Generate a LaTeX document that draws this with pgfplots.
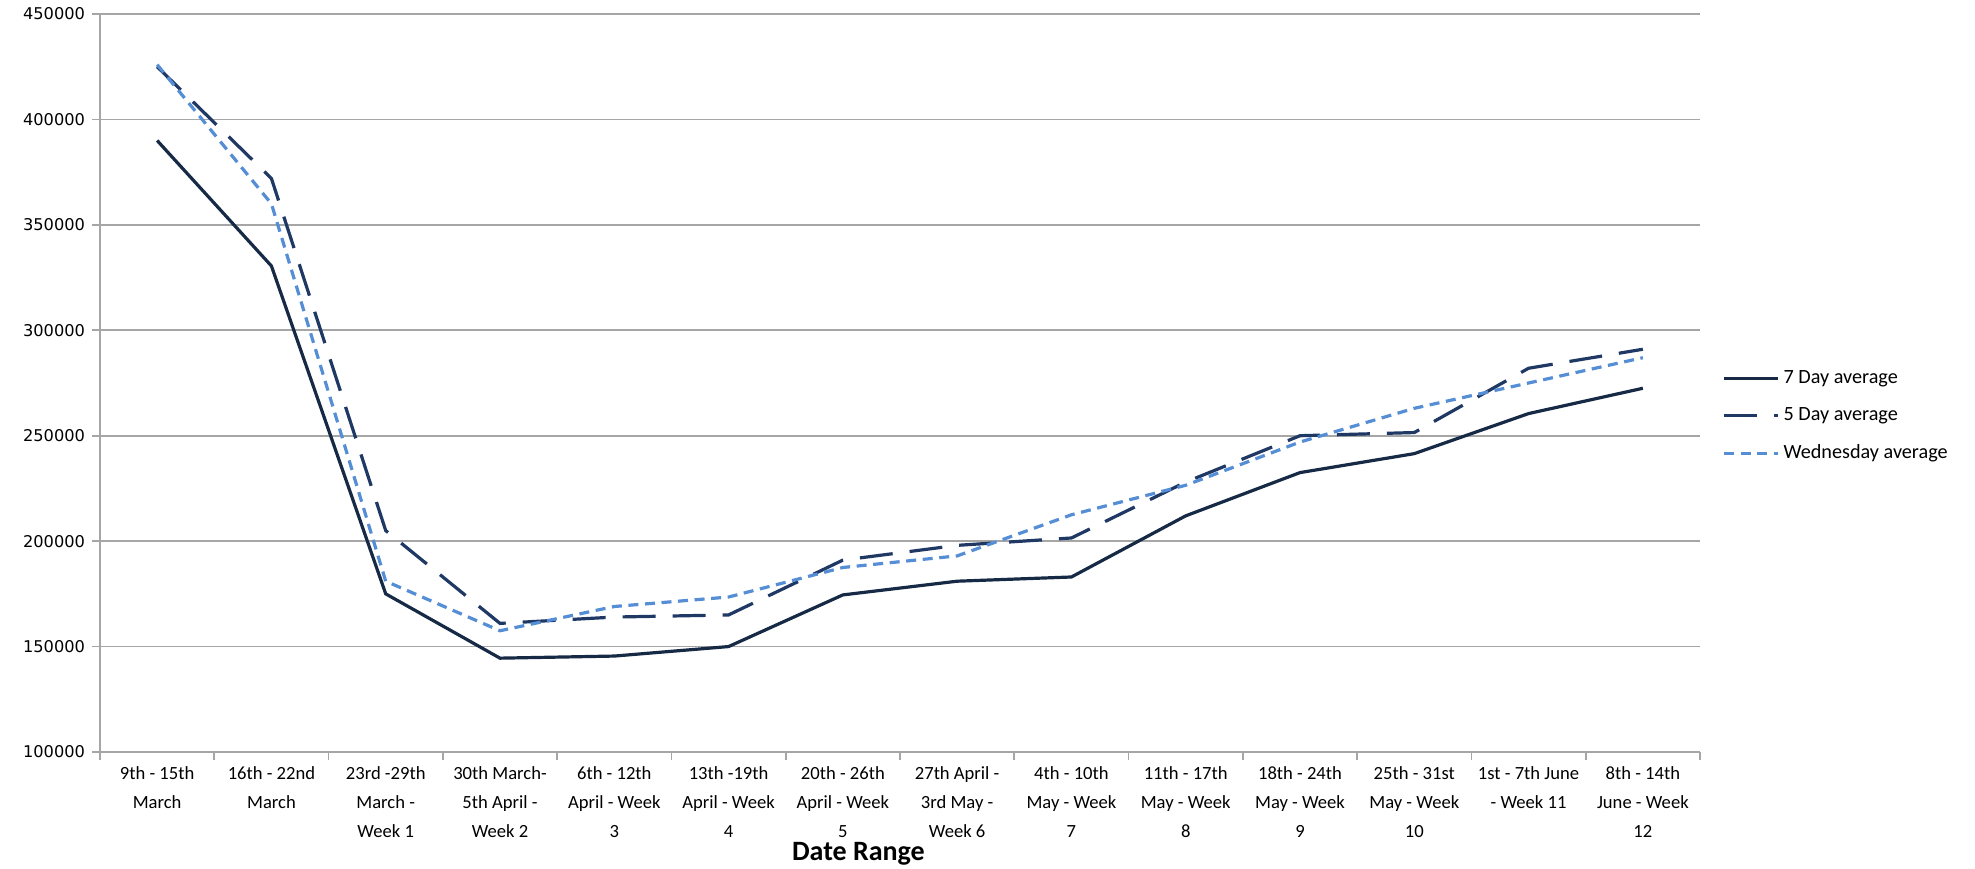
\documentclass[border=0pt]{standalone}
\usepackage{fontspec}
\setmainfont{Carlito}
\newfontfamily\dejavu{DejaVu Sans}
\usepackage{pgfplots}
\pgfplotsset{compat=1.18}
\definecolor{sevenc}{HTML}{172A45}
\definecolor{fivec}{HTML}{1F3864}
\definecolor{wedc}{HTML}{558ED5}
\definecolor{gridc}{HTML}{A6A6A6}
\begin{document}
\begin{tikzpicture}
\path[use as bounding box] (-50bp,-58.5bp) rectangle (937.5bp,376bp);
\begin{axis}[
  scale only axis,
  width=800bp, height=369bp,
  xmin=-0.5, xmax=13.5,
  ymin=100000, ymax=450000,
  ytick={100000,150000,200000,250000,300000,350000,400000,450000},
  scaled y ticks=false,
  yticklabel style={font=\dejavu\fontsize{8.1bp}{9bp}\selectfont, /pgf/number format/assume math mode=true, /pgf/number format/fixed, /pgf/number format/1000 sep={}},
  xtick={0,...,13},
  minor xtick={-0.5,0.5,...,13.5},
  xticklabels={
    {9th - 15th\\March},
    {16th - 22nd\\March},
    {23rd -29th\\March -\\Week 1},
    {30th March-\\5th April -\\Week 2},
    {6th - 12th\\April - Week\\3},
    {13th -19th\\April - Week\\4},
    {20th - 26th\\April - Week\\5},
    {27th April -\\3rd May -\\Week 6},
    {4th - 10th\\May - Week\\7},
    {11th - 17th\\May - Week\\8},
    {18th - 24th\\May - Week\\9},
    {25th - 31st\\May - Week\\10},
    {1st - 7th June\\- Week 11},
    {8th - 14th\\June - Week\\12}},
  xticklabel style={font=\fontsize{9.3bp}{14.5bp}\selectfont, align=center, yshift=0bp},
  major x tick style={draw=none},
  minor x tick style={draw=gridc, line width=0.8bp},
  y tick style={draw=gridc, line width=0.8bp},
  tick align=outside,
  major tick length=4bp, minor tick length=4bp,
  axis x line*=bottom, axis y line*=left,
  axis line style={draw=gridc, line width=0.8bp, -},
  ymajorgrids,
  grid style={draw=gridc, line width=0.8bp},
  xlabel={Date Range},
  xlabel style={font=\bfseries\fontsize{14bp}{16bp}\selectfont, at={(axis description cs:0.474,0)}, anchor=center, yshift=-51bp},
  legend style={at={(1.01,0.455)}, anchor=west, draw=none, fill=none,
    font=\fontsize{10.1bp}{11bp}\selectfont, row sep=6.5bp,
    /tikz/every even column/.append style={column sep=2bp}},
  legend cell align=left,
  legend image code/.code={\draw[#1] (0bp,0bp) -- (27bp,0bp);},
]
\addplot[sevenc, line width=1.6bp] coordinates {
(0,390000) (1,330500) (2,175000) (3,144500) (4,145500) (5,150000) (6,174500)
(7,181000) (8,183000) (9,212000) (10,232500) (11,241500) (12,260500) (13,272500)};
\addlegendentry{7 Day average}
\addplot[fivec, line width=1.6bp, dash pattern=on 16.5bp off 8.5bp] coordinates {
(0,425000) (1,372000) (2,205000) (3,161000) (4,164000) (5,165000) (6,191000)
(7,198000) (8,201500) (9,228000) (10,250000) (11,251500) (12,282000) (13,291000)};
\addlegendentry{5 Day average}
\addplot[wedc, line width=1.6bp, dash pattern=on 5bp off 3.3bp] coordinates {
(0,426000) (1,360000) (2,181000) (3,157500) (4,169000) (5,173500) (6,187500)
(7,193000) (8,212500) (9,226500) (10,247000) (11,263000) (12,275000) (13,287000)};
\addlegendentry{Wednesday average}
\end{axis}
\end{tikzpicture}
\end{document}
